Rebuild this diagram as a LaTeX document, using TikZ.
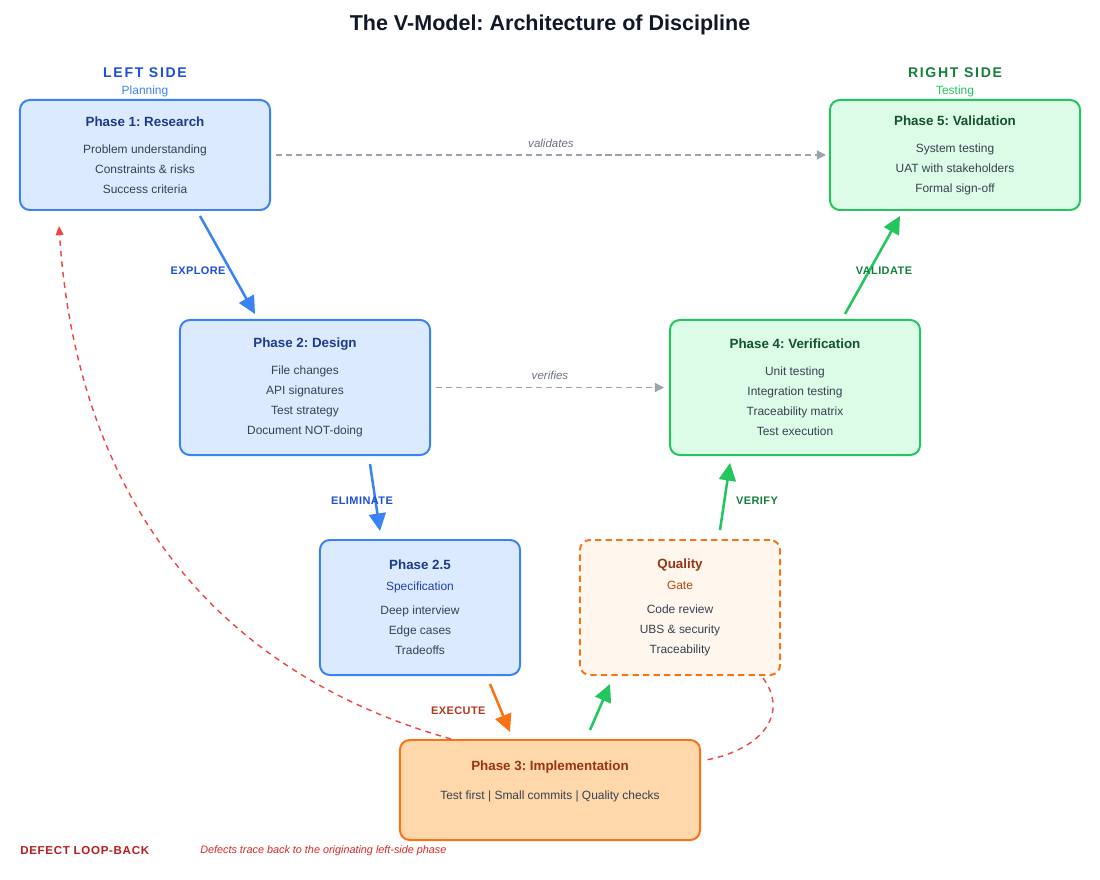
\documentclass[tikz,border=0pt]{standalone}
\usepackage{fontspec}
\setmainfont{Liberation Sans}
\usepackage{xcolor}
\usetikzlibrary{arrows.meta, positioning, calc}
\frenchspacing

\definecolor{planline}{HTML}{3B82F6}
\definecolor{planfill}{HTML}{DBEAFE}
\definecolor{plantitle}{HTML}{1E3A8A}
\definecolor{planlabel}{HTML}{1D4ED8}
\definecolor{plansub}{HTML}{1E40AF}
\definecolor{testline}{HTML}{22C55E}
\definecolor{testfill}{HTML}{DCFCE7}
\definecolor{testtitle}{HTML}{14532D}
\definecolor{testlabel}{HTML}{15803D}
\definecolor{buildline}{HTML}{F97316}
\definecolor{buildfill}{HTML}{FED7AA}
\definecolor{gatefill}{HTML}{FFF7ED}
\definecolor{buildtitle}{HTML}{9A3412}
\definecolor{gatesub}{HTML}{C2410C}
\definecolor{execlabel}{HTML}{B4361C}
\definecolor{bodytext}{HTML}{374151}
\definecolor{traceline}{HTML}{9CA3AF}
\definecolor{tracetext}{HTML}{6B7280}
\definecolor{defectline}{HTML}{EF4444}
\definecolor{defecthead}{HTML}{B91C1C}
\definecolor{defectnote}{HTML}{DC2626}
\definecolor{heading}{HTML}{111827}

\newcommand{\phasetitle}[2]{\textcolor{#1}{\fontsize{9.5}{14.2}\selectfont\bfseries #2}}
\newcommand{\spaced}{\addfontfeatures{LetterSpace=12}}

\tikzset{
    baseblock/.style={rectangle, rounded corners=7pt, line width=1.4pt, align=center, text=bodytext, font=\fontsize{8.5}{14.2}\selectfont, inner sep=0pt},
    planblock/.style={baseblock, draw=planline, fill=planfill, minimum width=6.25cm},
    testblock/.style={baseblock, draw=testline, fill=testfill, minimum width=6.25cm},
    specblock/.style={baseblock, draw=planline, fill=planfill, minimum width=5cm, minimum height=3.375cm},
    gateblock/.style={baseblock, draw=buildline, fill=gatefill, dash pattern=on 4.5pt off 3pt, minimum width=5cm, minimum height=3.375cm},
    buildblock/.style={baseblock, draw=buildline, fill=buildfill, minimum width=7.5cm, minimum height=2.5cm},
    sidehead/.style={font=\fontsize{10}{12}\selectfont\bfseries\spaced, inner sep=0pt},
    sidesub/.style={font=\fontsize{8.5}{10}\selectfont, inner sep=0pt},
    flowarrow/.style={line width=1.8pt, -{Triangle[length=12.5pt, width=12pt]}},
    tracearrow/.style={line width=1pt, draw=traceline, dash pattern=on 4.3pt off 2.8pt, -{Triangle[length=6.5pt, width=6.5pt]}},
    defectarrow/.style={line width=1pt, draw=defectline, dash pattern=on 4pt off 3.5pt},
    steplabel/.style={font=\fontsize{7.8}{9}\selectfont\bfseries\addfontfeatures{LetterSpace=4}, inner sep=0pt},
    tracelabel/.style={font=\fontsize{8.2}{9}\selectfont\itshape, text=tracetext, inner sep=0pt}
}

\begin{document}
\begin{tikzpicture}[x=0.025cm, y=-0.025cm]
    \useasboundingbox (0,0) rectangle (1100,880);

    \node (title) at (550,25) [font=\fontsize{15.3}{18}\selectfont\bfseries, text=heading] {The V-Model: Architecture of Discipline};

    % left arm
    \node (research) at (145,155) [planblock, minimum height=2.75cm] {\phasetitle{plantitle}{Phase 1: Research}\\[5pt] Problem understanding\\ Constraints \& risks\\ Success criteria};
    \node (design) at (305,387.5) [planblock, minimum height=3.375cm] {\phasetitle{plantitle}{Phase 2: Design}\\[5pt] File changes\\ API signatures\\ Test strategy\\ Document NOT-doing};
    \node (spec) at (420,607.5) [specblock] {\phasetitle{plantitle}{Phase 2.5}\\[0.7pt] \textcolor{plansub}{Specification}\\[3pt] Deep interview\\ Edge cases\\ Tradeoffs};

    % bottom
    \node (impl) at (550,790) [buildblock] {\phasetitle{buildtitle}{Phase 3: Implementation}\\[6.4pt] Test first | Small commits | Quality checks\\ \mbox{}};

    % right arm
    \node (gate) at (680,607.5) [gateblock] {\phasetitle{buildtitle}{Quality}\\[0.7pt] \textcolor{gatesub}{Gate}\\[3pt] Code review\\ UBS \& security\\ Traceability};
    \node (verification) at (795,387.5) [testblock, minimum height=3.375cm] {\phasetitle{testtitle}{Phase 4: Verification}\\[5pt] Unit testing\\ Integration testing\\ Traceability matrix\\ Test execution};
    \node (validation) at (955,155) [testblock, minimum height=2.75cm] {\phasetitle{testtitle}{Phase 5: Validation}\\[5pt] System testing\\ UAT with stakeholders\\ Formal sign-off};

    % side headings
    \node (planning) at (145,91) [sidesub, text=planline] {Planning};
    \node (leftside) [sidehead, text=planlabel, above=5pt of planning] {LEFT SIDE};
    \node (testing) at (955,91) [sidesub, text=testline] {Testing};
    \node (rightside) [sidehead, text=testlabel, above=5pt of testing] {RIGHT SIDE};

    % the V
    \draw [flowarrow, planline] ($(research.south)+(55,5)$) -- ($(design.north)+(-50,-5)$)
        node [steplabel, text=planlabel, pos=0.56, xshift=-23.3pt] {EXPLORE};
    \draw [flowarrow, planline] ($(design.south)+(65,8)$) -- ($(spec.north)+(-40,-8)$)
        node [steplabel, text=planlabel, pos=0.55, xshift=-9.6pt] {ELIMINATE};
    \draw [flowarrow, buildline] ($(spec.south)+(70,8)$) -- ($(impl.north)+(-40,-7)$)
        node [steplabel, text=execlabel, pos=0.56, xshift=-30.5pt] {EXECUTE};
    \draw [flowarrow, testline] ($(impl.north)+(40,-9)$) -- ($(gate.south)+(-70,8)$);
    \draw [flowarrow, testline] ($(gate.north)+(40,-9)$) -- ($(verification.south)+(-65,7)$)
        node [steplabel, text=testlabel, pos=0.435, xshift=23.2pt] {VERIFY};
    \draw [flowarrow, testline] ($(verification.north)+(50,-5)$) -- ($(validation.south)+(-55,5)$)
        node [steplabel, text=testlabel, pos=0.44, xshift=10.5pt] {VALIDATE};

    % traceability
    \draw [tracearrow] ($(research.east)+(5,0)$) -- ($(validation.west)+(-3,0)$)
        node [tracelabel, midway, above=5pt] {validates};
    \draw [tracearrow] ($(design.east)+(5,0)$) -- ($(verification.west)+(-5,0)$)
        node [tracelabel, midway, above=5pt] {verifies};

    % defect loop-back
    \draw [defectarrow, -{Triangle[length=6.5pt, width=5.5pt]}] ($(impl.north west)+(52,0)$) .. controls (190,665) and (75,470) .. ($(research.south west)+(40,15)$);
    \draw [defectarrow] ($(gate.south east)+(-18,2)$) .. controls (790,715) and (760,750) .. ($(impl.east)+(5,-30)$);

    \node (defect) at (20,851) [anchor=west, inner sep=0pt, font=\fontsize{8.2}{9}\selectfont\bfseries\addfontfeatures{LetterSpace=6}, text=defecthead] {DEFECT LOOP-BACK};
    \node (defectnote) at (200,851) [anchor=west, inner sep=0pt, font=\fontsize{7.7}{9}\selectfont\itshape, text=defectnote] {Defects trace back to the originating left-side phase};
\end{tikzpicture}
\end{document}
